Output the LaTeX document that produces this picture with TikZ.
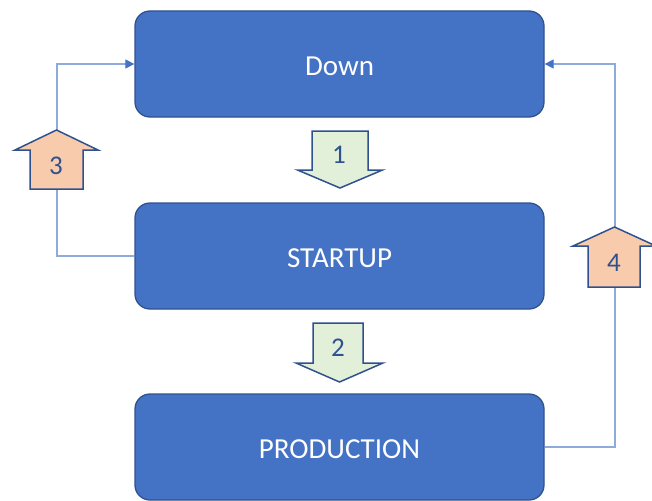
\documentclass[tikz,border=0pt]{standalone}
\usepackage{fontspec}
\setmainfont{Carlito}
\usetikzlibrary{arrows.meta}
\definecolor{boxfill}{HTML}{4472C4}
\definecolor{boxline}{HTML}{2F528F}
\definecolor{linkblue}{HTML}{8FAADC}
\definecolor{stepgreen}{HTML}{E2F0D9}
\definecolor{steporange}{HTML}{F8CBAD}
\begin{document}
\begin{tikzpicture}[x=1pt,y=-1pt,
  stage/.style={draw=boxline, line width=1.3pt, fill=boxfill, rounded corners=15pt,
    minimum width=409pt, minimum height=106pt, inner sep=0pt, text=white,
    text height=23pt, text depth=0pt, font=\fontsize{29}{34}\selectfont},
  link/.style={draw=linkblue, line width=1.2pt,
    -{Triangle[length=9pt,width=9pt,fill=boxfill,color=boxfill]}},
  blockarrow/.style={draw=boxline, line width=1.5pt, line join=miter},
  steplabel/.style={text=boxline, inner sep=0pt, font=\fontsize{27}{30}\selectfont}]
\useasboundingbox (0,0) rectangle (652,500);

% the three states
\node[stage] (down) at (339.5,64) {Down};
\node[stage] (startup) at (339.5,256) {STARTUP};
\node[stage] (production) at (339.5,447) {PRODUCTION};

% return paths to the Down state
\coordinate (lt) at (57,64);
\coordinate (rt) at (615,64);
\draw[link] (startup.west) -| (lt) -- (down.west);
\draw[link] (production.east) -| (rt) -- (down.east);

% block arrows: forward steps (green), return steps (orange)
\draw[blockarrow, fill=stepgreen] (312,131) -- (368,131) -- (368,170) -- (382.5,170)
  -- (340,188) -- (297.5,170) -- (312,170) -- cycle;
\draw[blockarrow, fill=stepgreen] (313,323) -- (363,323) -- (363,363) -- (383,363)
  -- (339.5,382) -- (296,363) -- (313,363) -- cycle;
\draw[blockarrow, fill=steporange] (30,189) -- (83,189) -- (83,150) -- (98,150)
  -- (56.5,130) -- (15,150) -- (30,150) -- cycle;
\draw[blockarrow, fill=steporange] (588,287) -- (640,287) -- (640,246) -- (656,246)
  -- (614.5,227) -- (573,246) -- (588,246) -- cycle;

\node[steplabel] (s1) at (339,155) {1};
\node[steplabel] (s2) at (338,348) {2};
\node[steplabel] (s3) at (56,166) {3};
\node[steplabel] (s4) at (614,263) {4};
\end{tikzpicture}
\end{document}
